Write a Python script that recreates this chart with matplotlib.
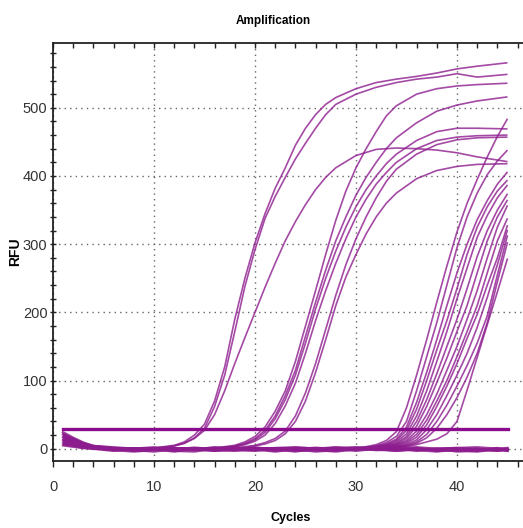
import numpy as np
import matplotlib
matplotlib.use("Agg")
import matplotlib.pyplot as plt
from matplotlib.ticker import MultipleLocator

# cycle grids used by each group of wells
early_cycles = [1, 2, 3, 4, 6, 8, 10, 12, 13, 14, 15, 16, 17, 18, 19, 20, 21, 22,
                23, 24, 25, 26, 27, 28, 30, 32, 34, 36, 38, 40, 42, 45]
mid_cycles = [1, 2, 3, 4, 6, 8, 10, 12, 14, 16, 18, 19, 20, 21, 22, 23, 24, 25,
              26, 27, 28, 29, 30, 31, 32, 33, 34, 36, 38, 40, 42, 45]
late_cycles = [1, 2, 3, 4, 6, 8, 10, 12, 14, 16, 18, 20, 22, 24, 26, 28,
               30, 31, 32, 33, 34, 35, 36, 37, 38, 39, 40, 41, 42, 43, 44, 45]
flat_cycles = [1, 2, 3, 4, 6, 8, 10, 12, 14, 16, 18, 20, 22, 24, 26, 28, 30,
               32, 34, 36, 38, 40, 42, 44, 45]

# RFU
early_rfu = [
    [18, 12, 6, 3, 0, -1, 1, 5, 10, 20, 36, 70, 120, 190, 250, 302, 345, 382,
     412, 445, 470, 490, 505, 515, 528, 537, 542, 546, 551, 557, 561, 566],
    [14, 9, 5, 2, -1, 0, 1, 4, 8, 16, 30, 62, 108, 172, 238, 292, 338, 370,
     398, 425, 448, 470, 490, 505, 520, 530, 537, 542, 545, 550, 545, 549],
    [20, 13, 7, 3, 0, -2, 0, 4, 8, 15, 27, 50, 85, 125, 163, 200, 237, 272,
     305, 333, 358, 380, 398, 412, 430, 439, 441, 440, 438, 434, 428, 421],
]
mid_rfu = [
    [10, 6, 3, 1, -1, 0, 1, -1, 0, 1, 5, 10, 18, 32, 55, 85, 128, 180, 232,
     285, 335, 378, 412, 440, 465, 488, 503, 520, 528, 532, 534, 536],
    [16, 10, 5, 2, 0, 1, -1, 0, 1, 0, 4, 8, 15, 27, 48, 78, 115, 165, 215,
     262, 305, 340, 372, 398, 420, 440, 456, 478, 495, 504, 510, 516],
    [8, 5, 2, 0, -2, -1, 0, 1, -1, 0, 3, 7, 13, 24, 44, 72, 108, 155, 205,
     250, 290, 325, 355, 380, 400, 418, 432, 452, 465, 470, 470, 469],
    [12, 8, 4, 1, 0, -1, 1, 0, -1, 1, 3, 6, 11, 20, 37, 63, 96, 140, 188,
     232, 272, 308, 340, 366, 388, 405, 420, 440, 452, 457, 459, 460],
    [18, 12, 6, 2, 0, 1, -1, 0, 1, -1, 1, 3, 5, 9, 15, 26, 48, 82, 125,
     175, 225, 270, 308, 340, 368, 392, 410, 432, 446, 453, 456, 457],
    [6, 4, 1, 0, -1, 0, 1, -1, 0, 1, 0, 2, 4, 7, 12, 22, 40, 70, 112,
     160, 210, 252, 285, 315, 340, 360, 375, 396, 408, 414, 417, 418],
]
late_rfu = [
    [22, 15, 8, 4, 1, 0, -2, 0, 1, -1, 0, 2, 0, -1, 1, 0,
     2, 3, 6, 12, 25, 60, 108, 160, 215, 268, 318, 360, 395, 428, 458, 484],
    [12, 8, 4, 2, 0, -1, 0, 1, -1, 0, 2, 0, -1, 1, 0, 2,
     1, 2, 4, 9, 18, 40, 85, 135, 185, 240, 295, 340, 375, 402, 422, 438],
    [9, 6, 3, 1, -1, 0, 1, -1, 0, 1, -1, 0, 1, 0, -2, 0,
     0, 2, 4, 7, 14, 32, 68, 112, 160, 210, 258, 300, 336, 364, 388, 406],
    [15, 10, 5, 2, 0, -2, -1, 0, 2, 0, -1, 1, 0, 2, 1, -1,
     1, 1, 3, 6, 12, 27, 58, 100, 145, 188, 235, 285, 325, 355, 378, 394],
    [6, 4, 2, 0, -1, 0, 1, 0, -1, -2, 0, 1, -1, 0, 1, 0,
     0, 2, 3, 5, 10, 22, 48, 85, 128, 172, 220, 265, 310, 342, 368, 387],
    [19, 13, 7, 3, 0, 1, -1, -2, 0, 1, 0, -1, 1, 0, -1, 1,
     1, 0, 2, 4, 8, 18, 40, 72, 110, 150, 190, 235, 282, 320, 350, 374],
    [11, 7, 3, 1, -2, -1, 0, 1, 0, -1, 1, 0, -2, -1, 0, 1,
     0, 1, 2, 4, 7, 15, 33, 62, 97, 133, 172, 210, 258, 305, 340, 365],
    [16, 11, 6, 3, 1, 0, -1, 0, -2, 0, 1, -1, 0, 1, 0, -1,
     1, 1, 2, 3, 6, 12, 26, 50, 80, 115, 150, 190, 232, 280, 325, 357],
    [7, 5, 2, 0, -1, -2, 0, -1, 1, 0, -1, 0, 1, -1, 0, 1,
     0, 1, 2, 2, 5, 10, 21, 42, 70, 100, 135, 172, 210, 258, 305, 338],
    [13, 9, 4, 2, 0, 1, 0, -1, 0, 2, 0, 1, -1, 0, 2, 0,
     1, 0, 1, 2, 4, 8, 17, 35, 62, 92, 125, 162, 197, 240, 280, 328],
    [20, 14, 7, 3, 1, -1, 0, 1, -1, 0, -2, 0, 1, 0, -1, 0,
     0, 1, 1, 2, 3, 6, 13, 28, 50, 78, 108, 140, 178, 222, 270, 321],
    [10, 7, 3, 1, 0, 0, -2, 0, 1, -1, 0, 2, 0, -1, 0, 1,
     1, 0, 1, 1, 3, 5, 10, 21, 40, 64, 92, 122, 155, 195, 255, 313],
    [14, 9, 5, 2, -1, 0, 1, 0, -1, 0, 1, -1, 0, 1, -1, 0,
     0, 1, 0, 1, 2, 4, 8, 16, 30, 50, 75, 105, 140, 185, 245, 303],
    [8, 5, 2, 1, 0, -1, 0, 1, 0, -1, 0, 0, -1, 1, 0, -1,
     0, 0, 1, 1, 2, 3, 6, 10, 14, 22, 40, 86, 134, 182, 230, 279],
]
flat_rfu = [
    [17, 11, 6, 2, 0, -2, -4, -1, 0, -3, -1, 0, -3, 1, -2, 0, -3, 0, 1, -2, -4, -1, -3, 0, -1],
    [5, 3, 1, 0, -3, -1, 0, -3, -4, 0, -2, -3, 0, -1, -4, -2, 0, -1, -3, 0, -2, -3, -4, -1, -3],
    [21, 14, 8, 4, 1, -1, 0, -2, -1, 2, 0, -1, -4, -1, 0, 2, -1, 2, 0, -3, 0, 1, -1, -3, 0],
    [9, 6, 3, 1, -2, -4, -2, 0, -1, -3, 1, -2, -1, -4, 0, -3, 1, -2, -1, 1, -3, -1, 0, -3, -2],
    [13, 8, 4, 1, 0, -3, -1, -4, 0, -2, -3, 1, 0, -3, -2, -4, -1, 0, -3, -1, 0, -4, -2, 1, -3],
    [24, 16, 9, 4, 2, 0, 2, -1, 1, 0, 2, -1, 1, 2, 0, 1, 2, -1, 1, 2, 0, 1, 2, 0, 1],
]
threshold = 28.5
threshold_span = [1, 45]

curve_color = "#8d1c8e"
tick_font = ["Liberation Sans", "DejaVu Sans"]

fig = plt.figure(figsize=(5.23, 5.28), dpi=100)
ax = fig.add_axes([53 / 523, 1 - 461 / 528, 474.7 / 523, 418 / 528])

# negative wells form the thick band along zero
for row in flat_rfu:
    ax.plot(flat_cycles, row, color=curve_color, lw=1.8, alpha=0.85)

groups = [(early_cycles, early_rfu), (mid_cycles, mid_rfu),
          (late_cycles, late_rfu)]
for cycles, rfu in groups:
    for row in rfu:
        ax.plot(cycles, row, color=curve_color, lw=1.2, alpha=0.8,
                solid_capstyle="butt")

ax.plot(threshold_span, [threshold, threshold], color="#8a0c8c", lw=2.4)

ax.set_xlim(0, 47)
ax.set_ylim(-18, 595)

ax.xaxis.set_major_locator(MultipleLocator(10))
ax.xaxis.set_minor_locator(MultipleLocator(2))
ax.yaxis.set_major_locator(MultipleLocator(100))
ax.yaxis.set_minor_locator(MultipleLocator(20))

ax.grid(True, which="major", color="#666666", linestyle=(0, (1, 3)), lw=1.0)
ax.set_axisbelow(True)

ax.spines["right"].set_visible(False)
for side in ["left", "bottom", "top"]:
    ax.spines[side].set_linewidth(1.3)
    ax.spines[side].set_color("#222222")

ax.tick_params(axis="x", which="both", direction="out", bottom=True, top=True,
               labeltop=False, length=4.5, width=1.0, color="#222222",
               labelsize=10.5, labelcolor="#333333", pad=9)
ax.tick_params(axis="y", which="both", direction="inout", length=5, width=1.0,
               color="#222222", labelsize=10.5, labelcolor="#333333", pad=1.5)

# top ticks point into the plot
for t in ax.xaxis.get_major_ticks() + ax.xaxis.get_minor_ticks():
    t.tick2line.set_marker(3)
    t.tick2line.set_markersize(3.5)

for lab in ax.get_xticklabels() + ax.get_yticklabels():
    lab.set_family(tick_font)

ax.set_xlabel("Cycles", fontsize=9, fontweight="bold", family=tick_font)
ax.xaxis.set_label_coords((291 - 53) / 474.7, (461 - 512) / 418)
ax.set_ylabel("RFU", fontsize=10, fontweight="bold", family=tick_font)
ax.yaxis.set_label_coords((22 - 53) / 474.7, 0.5)
fig.text(273 / 523, 1 - 21 / 528, "Amplification", ha="center", va="center",
         fontsize=8.5, fontweight="bold", family=tick_font)

fig.savefig("out.png", dpi=100)
